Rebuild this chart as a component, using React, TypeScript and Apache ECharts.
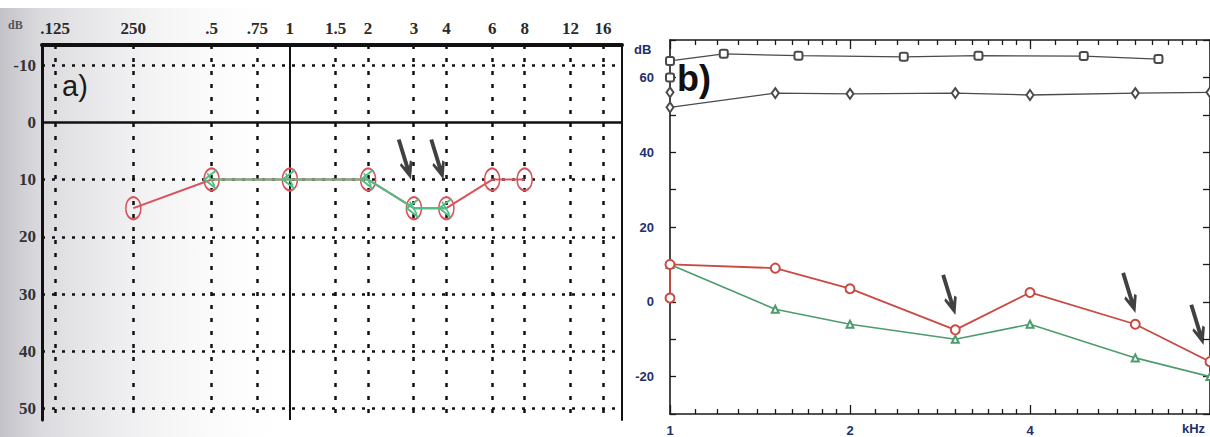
import React, { useEffect, useRef } from 'react';
import * as echarts from 'echarts';

// ---------- Panel a) audiogram ----------
const freqA = [0.125, 0.25, 0.5, 0.75, 1, 1.5, 2, 3, 4, 6, 8, 12, 16];
const freqALabels = ['.125', '250', '.5', '.75', '1', '1.5', '2', '3', '4', '6', '8', '12', '16'];
const dbTicksA = [-10, 0, 10, 20, 30, 40, 50];
const airFreq = [0.25, 0.5, 1, 2, 3, 4, 6, 8];
const airDb = [15, 10, 10, 10, 15, 15, 10, 10];
const boneFreq = [0.5, 1, 2, 3, 4];
const boneDb = [10, 10, 10, 15, 15];
const arrowAFreq = [3, 4];
const arrowADb = [10, 10];

// ---------- Panel b) DP-gram ----------
const freqBLabelsKHz = [1, 2, 4];
const freqBMajor = [1, 2, 4, 8];
const freqBMinor = [1.1, 1.2, 1.3, 1.4, 1.5, 1.6, 1.7, 1.8, 1.9, 2.2, 2.4, 2.6, 2.8, 3.0, 3.2, 3.4, 3.6, 3.8, 4.4, 4.8, 5.2, 5.6, 6.0, 6.4, 6.8, 7.2, 7.6];
const dbTicksB = [-30, -20, -10, 0, 10, 20, 30, 40, 50, 60, 70];
const dbLabelsB = [-20, 0, 20, 40, 60];
const l1Freq = [1, 1, 1.23, 1.64, 2.46, 3.28, 4.92, 6.56];
const l1Db = [60, 64.4, 66.3, 65.8, 65.5, 65.8, 65.7, 64.9];
const l2Freq = [1, 1, 1.5, 2, 3, 4, 6, 8];
const l2Db = [56, 52, 55.8, 55.6, 55.8, 55.3, 55.8, 56];
const dpFreq = [1, 1, 1.5, 2, 3, 4, 6, 8];
const dpDb = [1, 10, 9, 3.5, -7.5, 2.5, -6, -16];
const noiseFreq = [1, 1.5, 2, 3, 4, 6, 8];
const noiseDb = [10, -2, -6, -10, -6, -15, -20];
const arrowBFreq = [3, 6, 7.8];
const arrowBDb = [-3.5, -3, -11.5];

const L2 = (f: number) => Math.log2(f);
const zip = (fs: number[], ds: number[]) => fs.map((f, i) => [L2(f), ds[i]]);

const RED_A = '#d9535a';
const GREEN_A = '#52bd84';
const RED_B = '#c94a42';
const GREEN_B = '#4e9c6c';
const GRAY_B = '#4a4a4a';
const NAVY = '#22306a';

const ARROW = 'path://M7,0 L13,0 L13,41 L17,33 L20,36 L10,60 L0,36 L3,33 L7,41 Z';
const CHEVRON = 'path://M15,1 L2,10 L15,19 M5,4 L13,16';

export default function App() {
  const ref = useRef<HTMLDivElement>(null);
  useEffect(() => {
    const chart = echarts.init(ref.current!, null, { renderer: 'svg' });
    const dotH = { color: '#111', width: 2.5, type: [3, 7] as number[] };
    const dotV = { color: '#111', width: 2.5, type: [4, 9] as number[] };
    const gridLinesA: any[] = [
      ...dbTicksA.map((v) => ({
        yAxis: v,
        lineStyle: v === 0 ? { color: '#111', width: 2.5, type: 'solid' } : dotH,
      })),
      ...freqA.map((f) => ({
        xAxis: L2(f),
        lineStyle: f === 1 ? { color: '#111', width: 2, type: 'solid' } : dotV,
      })),
    ];
    const minorTick = (pos: 'top' | 'bottom', showLine: boolean, vals: number[], len: number, label: boolean) => ({
      gridIndex: 1,
      type: 'value',
      position: pos,
      min: 0,
      max: 3,
      axisLine: { show: showLine, onZero: false, lineStyle: { color: '#1a1a1a', width: 1.6 } },
      axisTick: { show: true, inside: true, customValues: vals.map(L2), length: len, lineStyle: { color: '#1a1a1a', width: 1.3 } },
      axisLabel: label
        ? {
            show: true,
            customValues: freqBLabelsKHz.map(L2),
            formatter: (v: number) => String(Math.round(Math.pow(2, v))),
            color: NAVY,
            fontWeight: 'bold',
            fontSize: 13,
            fontFamily: 'Liberation Sans, Arial, sans-serif',
            margin: 10,
          }
        : { show: false },
      splitLine: { show: false },
    });

    const option: any = {
      animation: false,
      backgroundColor: '#ffffff',
      grid: [
        { left: 42, top: 45, width: 580, height: 375 },
        { left: 670, top: 40, right: -6, bottom: 23 },
      ],
      xAxis: [
        {
          gridIndex: 0,
          type: 'value',
          position: 'top',
          min: -3.167,
          max: 4.244,
          axisLine: { show: true, onZero: false, lineStyle: { color: '#111', width: 4 } },
          axisTick: { show: false },
          splitLine: { show: false },
          axisLabel: {
            customValues: freqA.map(L2),
            formatter: (v: number) => {
              const i = freqA.findIndex((f) => Math.abs(L2(f) - v) < 1e-6);
              return i >= 0 ? freqALabels[i] : '';
            },
            fontFamily: 'Liberation Serif, Times New Roman, serif',
            fontWeight: 'bold',
            fontSize: 17,
            color: '#2a2a2a',
            margin: 8,
          },
        },
        minorTick('bottom', true, freqBMinor, 5, true),
        minorTick('bottom', false, freqBMajor, 9, false),
        minorTick('top', true, freqBMinor, 5, false),
        minorTick('top', false, freqBMajor, 9, false),
      ],
      yAxis: [
        {
          gridIndex: 0,
          type: 'value',
          inverse: true,
          min: -13.5,
          max: 52,
          axisLine: { show: true, onZero: false, lineStyle: { color: '#111', width: 3 } },
          axisTick: { show: false },
          splitLine: { show: false },
          axisLabel: {
            customValues: dbTicksA,
            fontFamily: 'Liberation Serif, Times New Roman, serif',
            fontWeight: 'bold',
            fontSize: 17,
            color: '#333',
            margin: 6,
          },
        },
        {
          gridIndex: 0,
          type: 'value',
          position: 'right',
          inverse: true,
          min: -13.5,
          max: 52,
          axisLine: { show: true, onZero: false, lineStyle: { color: '#111', width: 2 } },
          axisTick: { show: false },
          axisLabel: { show: false },
          splitLine: { show: false },
        },
        {
          gridIndex: 1,
          type: 'value',
          min: -30,
          max: 70,
          axisLine: { show: true, onZero: false, lineStyle: { color: '#1a1a1a', width: 1.6 } },
          axisTick: { show: true, inside: true, customValues: dbTicksB, length: 6, lineStyle: { color: '#1a1a1a', width: 1.3 } },
          axisLabel: {
            customValues: dbLabelsB,
            color: NAVY,
            fontWeight: 'bold',
            fontSize: 13,
            fontFamily: 'Liberation Sans, Arial, sans-serif',
            margin: 16,
          },
          splitLine: { show: false },
        },
        {
          gridIndex: 1,
          type: 'value',
          position: 'right',
          min: -30,
          max: 70,
          axisLine: { show: true, onZero: false, lineStyle: { color: '#1a1a1a', width: 1.6 } },
          axisTick: { show: true, inside: true, customValues: dbTicksB, length: 7, lineStyle: { color: '#1a1a1a', width: 1.3 } },
          axisLabel: { show: false },
          splitLine: { show: false },
        },
      ],
      series: [
        {
          name: 'air',
          type: 'line',
          xAxisIndex: 0,
          yAxisIndex: 0,
          z: 3,
          data: zip(airFreq, airDb),
          symbol: 'circle',
          symbolSize: [15, 22],
          itemStyle: { color: 'rgba(255,255,255,0)', borderColor: RED_A, borderWidth: 1.8 },
          lineStyle: { color: RED_A, width: 2 },
          markLine: {
            silent: true,
            z: 1,
            symbol: ['none', 'none'],
            label: { show: false },
            emphasis: { disabled: true },
            data: gridLinesA,
          },
        },
        {
          name: 'bone',
          type: 'line',
          xAxisIndex: 0,
          yAxisIndex: 0,
          z: 4,
          data: zip(boneFreq, boneDb),
          symbol: CHEVRON,
          symbolSize: [12, 19],
          symbolOffset: [-1, 0],
          itemStyle: { color: 'rgba(255,255,255,0)', borderColor: GREEN_A, borderWidth: 1.8 },
          lineStyle: { color: GREEN_A, width: 2 },
        },
        {
          name: 'arrowsA',
          type: 'scatter',
          xAxisIndex: 0,
          yAxisIndex: 0,
          z: 6,
          data: zip(arrowAFreq, arrowADb),
          symbol: ARROW,
          symbolSize: [13, 42],
          symbolRotate: 17,
          symbolOffset: [-9, -20],
          itemStyle: { color: '#111' },
        },
        {
          name: 'L1',
          type: 'line',
          xAxisIndex: 1,
          yAxisIndex: 2,
          z: 3,
          data: zip(l1Freq, l1Db),
          symbol: 'emptyRoundRect',
          symbolSize: 8,
          itemStyle: { color: GRAY_B, borderWidth: 1.4 },
          lineStyle: { color: GRAY_B, width: 1.3 },
        },
        {
          name: 'L2',
          type: 'line',
          xAxisIndex: 1,
          yAxisIndex: 2,
          z: 3,
          data: zip(l2Freq, l2Db),
          symbol: 'emptyDiamond',
          symbolSize: [7, 10],
          itemStyle: { color: GRAY_B, borderWidth: 1.3 },
          lineStyle: { color: GRAY_B, width: 1.3 },
        },
        {
          name: 'noise',
          type: 'line',
          xAxisIndex: 1,
          yAxisIndex: 2,
          z: 3,
          data: zip(noiseFreq, noiseDb),
          symbol: 'emptyTriangle',
          symbolSize: 7,
          itemStyle: { color: GREEN_B, borderWidth: 1.3 },
          lineStyle: { color: GREEN_B, width: 1.6 },
        },
        {
          name: 'DP',
          type: 'line',
          xAxisIndex: 1,
          yAxisIndex: 2,
          z: 4,
          data: zip(dpFreq, dpDb),
          symbol: 'emptyCircle',
          symbolSize: 9,
          itemStyle: { color: RED_B, borderWidth: 1.6 },
          lineStyle: { color: RED_B, width: 1.8 },
        },
        {
          name: 'arrowsB',
          type: 'scatter',
          xAxisIndex: 1,
          yAxisIndex: 2,
          z: 6,
          data: zip(arrowBFreq, arrowBDb),
          symbol: ARROW,
          symbolSize: [13, 42],
          symbolRotate: 17,
          symbolOffset: [-6, -20],
          itemStyle: { color: '#111' },
        },
      ],
      graphic: [
        {
          type: 'rect',
          z: -1,
          silent: true,
          shape: { x: 0, y: 8, width: 300, height: 429 },
          style: {
            fill: new echarts.graphic.LinearGradient(0, 0, 1, 0, [
              { offset: 0, color: '#c2c2c8' },
              { offset: 0.13, color: '#dadade' },
              { offset: 1, color: 'rgba(255,255,255,0)' },
            ]),
          },
        },
        { type: 'text', z: 100, x: 8, y: 19, style: { text: 'dB', font: 'bold 12px Liberation Serif, serif', fill: '#555' } },
        { type: 'text', z: 100, x: 62, y: 71, style: { text: 'a)', font: '29px Liberation Sans, Arial, sans-serif', fill: '#1a1a1a' } },
        { type: 'text', z: 100, x: 677, y: 60, style: { text: 'b)', font: 'bold 36px Liberation Sans, Arial, sans-serif', fill: '#111' } },
        { type: 'text', z: 100, x: 634, y: 43, style: { text: 'dB', font: 'bold 13px Liberation Sans, Arial, sans-serif', fill: NAVY } },
        { type: 'text', z: 100, x: 1182, y: 422, style: { text: 'kHz', font: 'bold 13px Liberation Sans, Arial, sans-serif', fill: NAVY } },
      ],
    };
    chart.setOption(option);
    return () => chart.dispose();
  }, []);
  return (
    <div
      ref={ref}
      style={{ position: 'absolute', left: 0, top: 0, width: 1210, height: 437, background: '#fff' }}
    />
  );
}
